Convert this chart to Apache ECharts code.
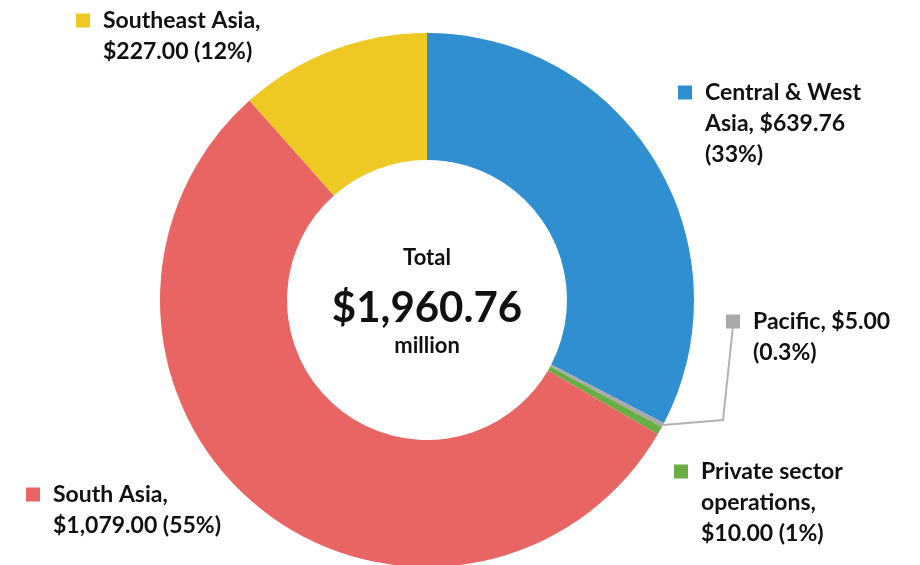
<!DOCTYPE html>
<html><head><meta charset="utf-8">
<script src="https://cdn.jsdelivr.net/npm/echarts@6/dist/echarts.min.js"></script>
<style>html,body{margin:0;padding:0;background:#fff}#c{width:920px;height:565px}</style>
</head><body><div id="c"></div>
<script>
const categories = ['Central & West Asia', 'Pacific', 'Private sector operations', 'South Asia', 'Southeast Asia'];
const values = [639.76, 5.00, 10.00, 1079.00, 227.00];
const labelLines = [
  ['Central & West', 'Asia, $639.76', '(33%)'],
  ['Pacific, $5.00', '(0.3%)'],
  ['Private sector', 'operations,', '$10.00 (1%)'],
  ['South Asia,', '$1,079.00 (55%)'],
  ['Southeast Asia,', '$227.00 (12%)']
];
const totalLabel = ['Total', '$1,960.76', 'million'];
const colors = ['#2F8FD1', '#A9A9A9', '#69AD45', '#E96564', '#EEC923'];
const labelPos = [[678, 77], [726, 306], [674, 456], [26, 479], [76, 5]];

const font = 'Lato, "Open Sans", sans-serif';
const FS = 23;
const rich = {
  t: {fontFamily: font, fontWeight: 'bold', fontSize: FS, color: '#111', lineHeight: 31, padding: [0, 0, 0, 13]},
  i: {fontFamily: font, fontWeight: 'bold', fontSize: FS, color: '#111', lineHeight: 31, padding: [0, 0, 0, 27]}
};
colors.forEach((c, k) => {
  rich['sq' + k] = {backgroundColor: c, width: 14, height: 14, lineHeight: 31};
});

const chart = echarts.init(document.getElementById('c'), null, {renderer: 'canvas'});
chart.setOption({
  animation: false,
  series: [{
    type: 'pie',
    center: [427, 300],
    radius: [140, 267],
    startAngle: 90,
    clockwise: true,
    avoidLabelOverlap: false,
    itemStyle: {borderWidth: 0},
    data: categories.map((n, k) => ({
      name: n, value: values[k],
      itemStyle: {color: colors[k]},
      labelLine: {show: k === 1, length: 20, length2: 40, lineStyle: {color: '#B3B3B3', width: 2}},
      label: {
        formatter: '{sq' + k + '|}{t|' + labelLines[k][0] + '}' +
          labelLines[k].slice(1).map(s => '\n{i|' + s + '}').join('')
      }
    })),
    label: {show: true, position: 'outside', rich: rich, align: 'left'},
    labelLayout: function (p) {
      const pos = labelPos[p.dataIndex];
      const res = {x: pos[0], y: pos[1], align: 'left', verticalAlign: 'top'};
      if (p.dataIndex === 1 && p.labelLinePoints) {
        const a = p.labelLinePoints[0];
        res.labelLinePoints = [a, [pos[0] - 3, a[1] - 5], [pos[0] + 7, pos[1] + 20]];
      }
      return res;
    }
  }],
  graphic: [
    {type: 'text', x: 427, y: 258, style: {text: totalLabel[0], font: 'bold 22px ' + font, fill: '#111', align: 'center', verticalAlign: 'middle'}},
    {type: 'text', x: 427, y: 308, style: {text: totalLabel[1], font: 'bold 42px ' + font, fill: '#111', align: 'center', verticalAlign: 'middle'}},
    {type: 'text', x: 427, y: 346, style: {text: totalLabel[2], font: 'bold 22px ' + font, fill: '#111', align: 'center', verticalAlign: 'middle'}}
  ]
});
</script></body></html>
